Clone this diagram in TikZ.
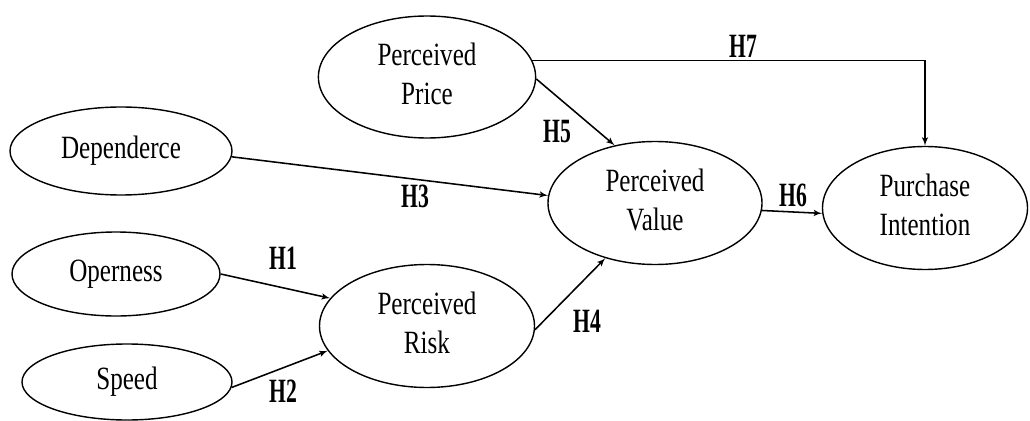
\documentclass[tikz,border=0pt]{standalone}
\usepackage{fontspec}
\setmainfont{Liberation Serif}
\usepackage{graphicx}
\usetikzlibrary{positioning, arrows, shapes}

\newcommand{\narrowtext}[2]{\scalebox{#1}[1.1]{\begin{tabular}{@{}c@{}}#2\end{tabular}}}

\begin{document}
\begin{tikzpicture}[
    construct/.style={ellipse, draw, line width=1pt, inner sep=0pt, font=\fontsize{21}{25}\selectfont},
    hyp/.style={font=\fontsize{22}{24}\selectfont\bfseries, inner sep=0pt},
    line/.style={draw, line width=1.1pt, -latex'}
    ]
    \useasboundingbox (0,0) rectangle (25.75,10.5);
    
    
    \node[construct, minimum width=5.43cm, minimum height=3.05cm] (price) at (10.675,8.575) {\narrowtext{0.85}{Perceived\\Price}};
    \node[construct, minimum width=5.55cm, minimum height=2.2cm] (dep) at (3.025,6.725) {\narrowtext{0.85}{Dependerce}};
    \node[construct, minimum width=5.2cm, minimum height=2.1cm] (open) at (2.9,3.65) {\narrowtext{0.85}{Operness}};
    \node[construct, minimum width=5.25cm, minimum height=1.9cm] (speed) at (3.175,0.95) {\narrowtext{0.85}{Speed}};
    
    
    \node[construct, minimum width=5.375cm, minimum height=3.075cm] (risk) at (10.675,2.35) {\narrowtext{0.85}{Perceived\\Risk}};
    \node[construct, minimum width=5.35cm, minimum height=3.075cm] (value) at (16.375,5.425) {\narrowtext{0.85}{Perceived\\Value}};
    \node[construct, minimum width=5.125cm, minimum height=3.075cm] (purchase) at (23.125,5.3) {\narrowtext{0.85}{Purchase\\Intention}};
    
    
    \node[hyp] (h1) at (7.075,3.95) {\narrowtext{0.7}{H1}};
    \node[hyp] (h2) at (7.075,0.625) {\narrowtext{0.7}{H2}};
    \node[hyp] (h3) at (10.375,5.5) {\narrowtext{0.7}{H3}};
    \node[hyp] (h4) at (14.675,2.375) {\narrowtext{0.7}{H4}};
    \node[hyp] (h5) at (13.925,7.125) {\narrowtext{0.7}{H5}};
    \node[hyp] (h6) at (19.825,5.525) {\narrowtext{0.7}{H6}};
    \node[hyp] (h7) at (18.575,9.25) {\narrowtext{0.7}{H7}};
    
    
    \draw[line] (open.east) -- (risk.164);
    \draw[line] (speed.-3) -- (risk.194);
    \draw[line] (dep.-3) -- (value.176);
    \draw[line] (risk.-2) -- (value.228);
    \draw[line] (price.-1) -- (value.125);
    \draw[line] (value.-4) -- (purchase.183);
    \draw[line] (price.9) -| (purchase.north);
    
  \end{tikzpicture}
\end{document}
